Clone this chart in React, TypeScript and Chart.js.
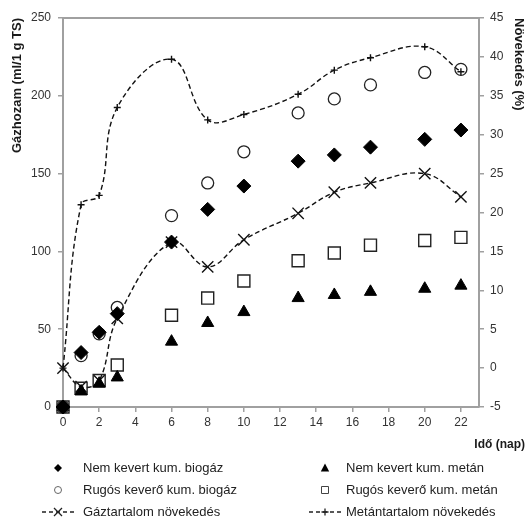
import React, { useEffect, useRef } from "react";
import { Chart, registerables } from "chart.js";

Chart.register(...registerables);

// ---- data ----
const days = [0, 1, 2, 3, 6, 8, 10, 13, 15, 17, 20, 22];
const biogasNoMix = [0, 35, 48, 60, 106, 127, 142, 158, 162, 167, 172, 178];
const biogasSpring = [0, 33, 47, 64, 123, 144, 164, 189, 198, 207, 215, 217];
const methaneNoMix = [0, 10, 15, 19, 42, 54, 61, 70, 72, 74, 76, 78];
const methaneSpring = [0, 12, 17, 27, 59, 70, 81, 94, 99, 104, 107, 109];
const gasGrowth = [0, -2.4, -1.6, 6.4, 16.2, 13, 16.5, 19.9, 22.6, 23.8, 25, 22];
const methaneGrowth = [0, 21, 22.2, 33.5, 39.7, 31.9, 32.6, 35.2, 38.3, 39.9, 41.3, 38.1];

const seriesLabels = [
  "Nem kevert kum. biogáz",
  "Rugós keverő kum. biogáz",
  "Nem kevert kum. metán",
  "Rugós keverő kum. metán",
  "Gáztartalom növekedés",
  "Metántartalom növekedés",
];
const xTitle = "Idő (nap)";
const yTitle = "Gázhozam (ml/1 g TS)";
const y2Title = "Növekedés (%)";

const FONT = "Arial, 'Liberation Sans', sans-serif";
const AXIS = "#a0a0a0";

const pts = (arr: number[]) => days.map((d, i) => ({ x: d, y: arr[i] }));

const legendPlugin = {
  id: "customLegend",
  afterDraw(chart: any) {
    const ctx = chart.ctx as CanvasRenderingContext2D;
    const ca = chart.chartArea;
    ctx.save();
    // top frame line
    ctx.strokeStyle = AXIS;
    ctx.lineWidth = 2;
    ctx.beginPath();
    ctx.moveTo(ca.left - 1, ca.top);
    ctx.lineTo(ca.right + 1, ca.top);
    ctx.stroke();

    // x title
    ctx.fillStyle = "#1a1a1a";
    ctx.font = `bold 12px ${FONT}`;
    ctx.textAlign = "right";
    ctx.textBaseline = "middle";
    ctx.fillText(xTitle, 525, 445);

    const colMarker = [58, 325];
    const colText = [83, 346];
    const rowY = [468, 490, 512];
    const layout = [
      [0, 0, "diamond"],
      [0, 1, "circle"],
      [1, 0, "triangle"],
      [1, 1, "square"],
      [0, 2, "lineX"],
      [1, 2, "linePlus"],
    ] as const;

    layout.forEach(([c, r, kind], i) => {
      const cx = colMarker[c];
      const cy = rowY[r];
      ctx.save();
      ctx.fillStyle = "#000";
      ctx.strokeStyle = "#222";
      ctx.lineWidth = 1;
      ctx.setLineDash([]);
      ctx.beginPath();
      if (kind === "diamond") {
        ctx.moveTo(cx, cy - 4);
        ctx.lineTo(cx + 4, cy);
        ctx.lineTo(cx, cy + 4);
        ctx.lineTo(cx - 4, cy);
        ctx.closePath();
        ctx.fill();
      } else if (kind === "circle") {
        ctx.strokeStyle = "#666";
        ctx.arc(cx, cy, 3.5, 0, Math.PI * 2);
        ctx.stroke();
      } else if (kind === "triangle") {
        ctx.moveTo(cx, cy - 4.5);
        ctx.lineTo(cx + 4.2, cy + 3.5);
        ctx.lineTo(cx - 4.2, cy + 3.5);
        ctx.closePath();
        ctx.fill();
      } else if (kind === "square") {
        ctx.strokeStyle = "#444";
        ctx.rect(cx - 3.5, cy - 3.5, 7, 7);
        ctx.stroke();
      } else {
        ctx.lineWidth = 1.3;
        ctx.setLineDash([4, 3]);
        ctx.moveTo(cx - 16, cy);
        ctx.lineTo(cx + 16, cy);
        ctx.stroke();
        ctx.setLineDash([]);
        ctx.beginPath();
        if (kind === "lineX") {
          ctx.moveTo(cx - 4, cy - 4);
          ctx.lineTo(cx + 4, cy + 4);
          ctx.moveTo(cx + 4, cy - 4);
          ctx.lineTo(cx - 4, cy + 4);
        } else {
          ctx.moveTo(cx - 3.5, cy);
          ctx.lineTo(cx + 3.5, cy);
          ctx.moveTo(cx, cy - 3.5);
          ctx.lineTo(cx, cy + 3.5);
        }
        ctx.stroke();
      }
      ctx.restore();
      ctx.fillStyle = "#222";
      ctx.font = `13px ${FONT}`;
      ctx.textAlign = "left";
      ctx.textBaseline = "middle";
      ctx.fillText(seriesLabels[i], colText[c], cy);
    });
    ctx.restore();
  },
};

export default function App() {
  const ref = useRef<HTMLCanvasElement | null>(null);

  useEffect(() => {
    document.body.style.margin = "0";
    const canvas = ref.current;
    if (!canvas) return;

    const lineDs = (label: string, arr: number[], style: string, radius: number) => ({
      type: "scatter" as const,
      label,
      data: pts(arr),
      yAxisID: "y2",
      showLine: true,
      tension: 0.4,
      borderColor: "#111",
      borderWidth: 1.4,
      borderDash: [5, 3],
      pointStyle: style,
      pointRadius: radius,
      pointBorderWidth: 1.4,
      pointBorderColor: "#111",
      pointBackgroundColor: "rgba(0,0,0,0)",
      clip: false as const,
    });

    const chart = new Chart(canvas, {
      type: "scatter",
      data: {
        datasets: [
          {
            label: seriesLabels[0],
            data: pts(biogasNoMix),
            yAxisID: "y",
            pointStyle: "rectRot",
            pointRadius: 7,
            pointBackgroundColor: "#000",
            pointBorderColor: "#000",
            pointBorderWidth: 1,
            clip: false,
          },
          {
            label: seriesLabels[1],
            data: pts(biogasSpring),
            yAxisID: "y",
            pointStyle: "circle",
            pointRadius: 6,
            pointBackgroundColor: "rgba(0,0,0,0)",
            pointBorderColor: "#222",
            pointBorderWidth: 1.3,
            clip: false,
          },
          {
            label: seriesLabels[2],
            data: pts(methaneNoMix),
            yAxisID: "y",
            pointStyle: "triangle",
            pointRadius: 7,
            pointBackgroundColor: "#000",
            pointBorderColor: "#000",
            pointBorderWidth: 1,
            clip: false,
          },
          {
            label: seriesLabels[3],
            data: pts(methaneSpring),
            yAxisID: "y",
            pointStyle: "rect",
            pointRadius: 8.5,
            pointBackgroundColor: "rgba(0,0,0,0)",
            pointBorderColor: "#222",
            pointBorderWidth: 1.4,
            clip: false,
          },
          lineDs(seriesLabels[4], gasGrowth, "crossRot", 8),
          lineDs(seriesLabels[5], methaneGrowth, "cross", 3.5),
        ] as any,
      },
      options: {
        responsive: false,
        animation: false,
        layout: { padding: { top: 18, left: 0, right: 0, bottom: 0 } },
        plugins: { legend: { display: false }, tooltip: { enabled: false } },
        scales: {
          x: {
            type: "linear",
            min: 0,
            max: 23,
            position: "bottom",
            ticks: {
              stepSize: 2,
              includeBounds: false,
              color: "#333",
              font: { size: 12, family: FONT },
              padding: 3,
              maxRotation: 0,
            },
            grid: { drawOnChartArea: false, tickLength: 5, color: AXIS, lineWidth: 1.5 },
            border: { color: AXIS, width: 2 },
            afterFit: (s: any) => {
              s.height = 110;
            },
          },
          y: {
            type: "linear",
            position: "left",
            min: 0,
            max: 250,
            ticks: {
              stepSize: 50,
              color: "#333",
              font: { size: 12, family: FONT },
              padding: 7,
            },
            grid: { drawOnChartArea: false, tickLength: 5, color: AXIS, lineWidth: 1.5 },
            border: { color: AXIS, width: 2 },
            title: {
              display: true,
              text: yTitle,
              align: "end",
              color: "#1a1a1a",
              font: { size: 13, weight: "bold", family: FONT },
              padding: { top: 10, bottom: 0 },
            },
            afterFit: (s: any) => {
              s.width = 63;
            },
          },
          y2: {
            type: "linear",
            position: "right",
            min: -5,
            max: 45,
            ticks: {
              stepSize: 5,
              color: "#333",
              font: { size: 12, family: FONT },
              padding: 6,
            },
            grid: { drawOnChartArea: false, tickLength: 5, color: AXIS, lineWidth: 1.5 },
            border: { color: AXIS, width: 2 },
            title: {
              display: true,
              text: y2Title,
              align: "end",
              color: "#1a1a1a",
              font: { size: 13, weight: "bold", family: FONT },
              padding: { top: 0, bottom: 0 },
            },
            afterFit: (s: any) => {
              s.width = 47;
            },
          },
        },
      } as any,
      plugins: [legendPlugin],
    });

    return () => chart.destroy();
  }, []);

  return (
    <div style={{ position: "relative", width: 526, height: 517, background: "#fff" }}>
      <canvas ref={ref} width={526} height={517} style={{ display: "block" }} />
    </div>
  );
}
